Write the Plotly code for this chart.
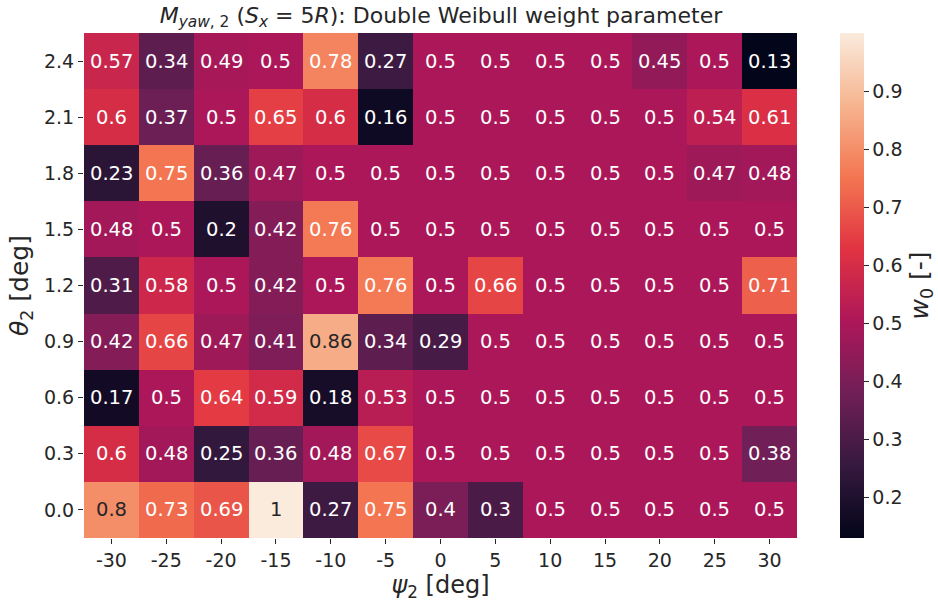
import plotly.graph_objects as go

# Grid axes
psi2 = [-30, -25, -20, -15, -10, -5, 0, 5, 10, 15, 20, 25, 30]
theta2 = [0.0, 0.3, 0.6, 0.9, 1.2, 1.5, 1.8, 2.1, 2.4]
theta_labels = ["0.0", "0.3", "0.6", "0.9", "1.2", "1.5", "1.8", "2.1", "2.4"]

# Double Weibull weight w0, one row per theta2 (bottom to top)
w0_theta_00 = [0.8, 0.73, 0.69, 1.0, 0.27, 0.75, 0.4, 0.3, 0.5, 0.5, 0.5, 0.5, 0.5]
w0_theta_03 = [0.6, 0.48, 0.25, 0.36, 0.48, 0.67, 0.5, 0.5, 0.5, 0.5, 0.5, 0.5, 0.38]
w0_theta_06 = [0.17, 0.5, 0.64, 0.59, 0.18, 0.53, 0.5, 0.5, 0.5, 0.5, 0.5, 0.5, 0.5]
w0_theta_09 = [0.42, 0.66, 0.47, 0.41, 0.86, 0.34, 0.29, 0.5, 0.5, 0.5, 0.5, 0.5, 0.5]
w0_theta_12 = [0.31, 0.58, 0.5, 0.42, 0.5, 0.76, 0.5, 0.66, 0.5, 0.5, 0.5, 0.5, 0.71]
w0_theta_15 = [0.48, 0.5, 0.2, 0.42, 0.76, 0.5, 0.5, 0.5, 0.5, 0.5, 0.5, 0.5, 0.5]
w0_theta_18 = [0.23, 0.75, 0.36, 0.47, 0.5, 0.5, 0.5, 0.5, 0.5, 0.5, 0.5, 0.47, 0.48]
w0_theta_21 = [0.6, 0.37, 0.5, 0.65, 0.6, 0.16, 0.5, 0.5, 0.5, 0.5, 0.5, 0.54, 0.61]
w0_theta_24 = [0.57, 0.34, 0.49, 0.5, 0.78, 0.27, 0.5, 0.5, 0.5, 0.5, 0.45, 0.5, 0.13]

z = [w0_theta_00, w0_theta_03, w0_theta_06, w0_theta_09, w0_theta_12,
     w0_theta_15, w0_theta_18, w0_theta_21, w0_theta_24]

cb_ticks = [0.2, 0.3, 0.4, 0.5, 0.6, 0.7, 0.8, 0.9]

# "rocket" colour map stops
rocket = [
    [0.0, "#03051a"],
    [1 / 7, "#35193e"],
    [2 / 7, "#701f57"],
    [3 / 7, "#ad1759"],
    [4 / 7, "#e13342"],
    [5 / 7, "#f37651"],
    [6 / 7, "#f6b48f"],
    [1.0, "#faebdd"],
]

W, H = 938, 605
L, R, T, B = 84, 797, 33, 538
FONT = "DejaVu Sans"
TXT = "#262626"

fig = go.Figure()
fig.add_trace(go.Heatmap(
    x=psi2, y=theta2, z=z,
    colorscale=rocket, zmin=0.13, zmax=1.0,
    xgap=0, ygap=0,
    hoverinfo="skip",
    colorbar=dict(
        thickness=24, len=1, lenmode="fraction",
        x=(840 - L) / (R - L), xanchor="left", xpad=0,
        y=0.5, yanchor="middle", ypad=0,
        outlinewidth=0,
        tickvals=cb_ticks, ticks="outside", ticklen=5, tickcolor=TXT,
        tickfont=dict(family=FONT, size=19, color=TXT),
        title=dict(text="<i>w</i><sub>0</sub> [-]", side="right",
                   font=dict(family=FONT, size=25, color=TXT)),
    ),
))

# Cell value labels
for j, row in enumerate(z):
    for i, v in enumerate(row):
        fig.add_annotation(
            x=psi2[i], y=theta2[j], text=format(v, ".2g"),
            showarrow=False,
            font=dict(family=FONT, size=19.5, color=TXT if v >= 0.79 else "white"),
        )

fig.update_layout(
    width=W, height=H,
    margin=dict(l=L, r=W - R, t=T, b=H - B, autoexpand=False),
    paper_bgcolor="white", plot_bgcolor="white",
    font=dict(family=FONT, color=TXT),
    title=dict(
        text="<i>M</i><sub><i>yaw</i>, 2</sub> (<i>S</i><sub><i>x</i></sub> = 5<i>R</i>): Double Weibull weight parameter",
        x=441 / W, xanchor="center", y=1 - 15 / H, yanchor="middle",
        font=dict(family=FONT, size=22, color=TXT),
    ),
    xaxis=dict(
        tickvals=psi2, ticktext=[str(p) for p in psi2],
        range=[-32.5, 32.5], showgrid=False, zeroline=False,
        ticks="outside", ticklen=5, tickcolor=TXT,
        tickfont=dict(family=FONT, size=19, color=TXT),
        title=dict(text="<i>ψ</i><sub>2</sub> [deg]", font=dict(family=FONT, size=24, color=TXT), standoff=6),
    ),
    yaxis=dict(
        tickvals=theta2, ticktext=theta_labels,
        range=[-0.15, 2.55], showgrid=False, zeroline=False,
        ticks="outside", ticklen=5, tickcolor=TXT,
        tickfont=dict(family=FONT, size=19, color=TXT),
        title=dict(text="<i>θ</i><sub>2</sub> [deg]", font=dict(family=FONT, size=25, color=TXT), standoff=8),
    ),
)

fig.write_html("out.html")
